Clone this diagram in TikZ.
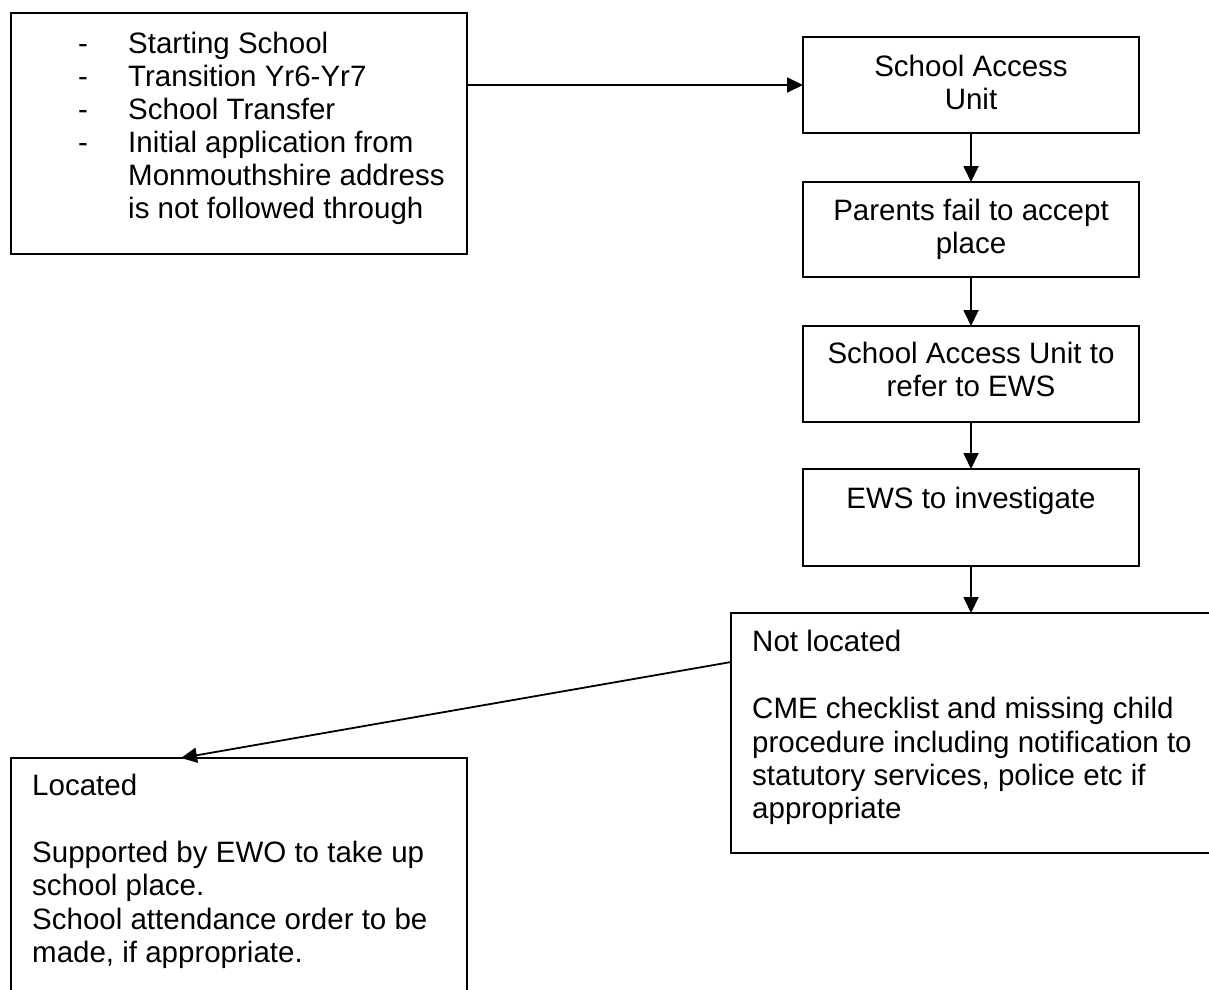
\documentclass[tikz,border=0pt]{standalone}
\usepackage{fontspec}
\setmainfont{Liberation Sans}
\usetikzlibrary{arrows.meta,calc}
\begin{document}
\begin{tikzpicture}[x=1pt,y=-1pt,
  box/.style={draw, line width=1.8pt, inner sep=0pt, outer sep=0pt, anchor=north west},
  ltxt/.style={inner sep=0pt, anchor=base west, font=\fontsize{29.5}{33}\selectfont},
  ctxt/.style={inner sep=0pt, anchor=base, font=\fontsize{29.5}{33}\selectfont},
  link/.style={line width=1.8pt, -{Triangle[length=16pt,width=15pt]}}]
\useasboundingbox (0,0) rectangle (1209,989);
\clip (0,0) rectangle (1209,989);

% boxes
\node[box, minimum width=456pt, minimum height=241pt] (A) at (11,13) {};
\node[box, minimum width=336pt, minimum height=96pt]  (B) at (803,37) {};
\node[box, minimum width=336pt, minimum height=95pt]  (C) at (803,182) {};
\node[box, minimum width=336pt, minimum height=96pt]  (D) at (803,326) {};
\node[box, minimum width=336pt, minimum height=97pt]  (E) at (803,469) {};
\node[box, minimum width=520pt, minimum height=240pt] (F) at (731,613) {};
\node[box, minimum width=456pt, minimum height=280pt] (G) at (11,758) {};

% starting list
\foreach \y [count=\i] in {53,86,119,152}
  \node[ltxt] (dash\i) at (78,\y) {-};
\node[ltxt] (a1) at (128,53)  {Starting School};
\node[ltxt] (a2) at (128,86)  {Transition Yr6-Yr7};
\node[ltxt] (a3) at (128,119) {School Transfer};
\node[ltxt] (a4) at (128,152) {Initial application from};
\node[ltxt] (a5) at (128,185) {Monmouthshire address};
\node[ltxt] (a6) at (128,218) {is not followed through};

% flow steps
\node[ctxt] (b1) at (971,76)  {School Access};
\node[ctxt] (b2) at (971,109) {Unit};
\node[ctxt] (c1) at (971,220) {Parents fail to accept};
\node[ctxt] (c2) at (971,253) {place};
\node[ctxt] (d1) at (971,363) {School Access Unit to};
\node[ctxt] (d2) at (971,396) {refer to EWS};
\node[ctxt] (e1) at (971,508) {EWS to investigate};

% outcomes
\node[ltxt] (f1) at (752,651) {Not located};
\node[ltxt] (f2) at (752,718) {CME checklist and missing child};
\node[ltxt] (f3) at (752,752) {procedure including notification to};
\node[ltxt] (f4) at (752,785) {statutory services, police etc if};
\node[ltxt] (f5) at (752,818) {appropriate};

\node[ltxt] (g1) at (32,795) {Located};
\node[ltxt] (g2) at (32,862) {Supported by EWO to take up};
\node[ltxt] (g3) at (32,895) {school place.};
\node[ltxt] (g4) at (32,929) {School attendance order to be};
\node[ltxt] (g5) at (32,962) {made, if appropriate.};

% connectors
\draw[link] (A.east |- B.west) -- (B.west);
\draw[link] (B.south) -- (C.north);
\draw[link] (C.south) -- (D.north);
\draw[link] (D.south) -- (E.north);
\draw[link] (E.south) -- (E.south |- F.north);
\coordinate (fOut) at ($(F.north west)+(0,49)$);
\coordinate (gIn)  at ($(G.north west)+(170,0)$);
\draw[link] (fOut) -- (gIn);
\end{tikzpicture}
\end{document}
